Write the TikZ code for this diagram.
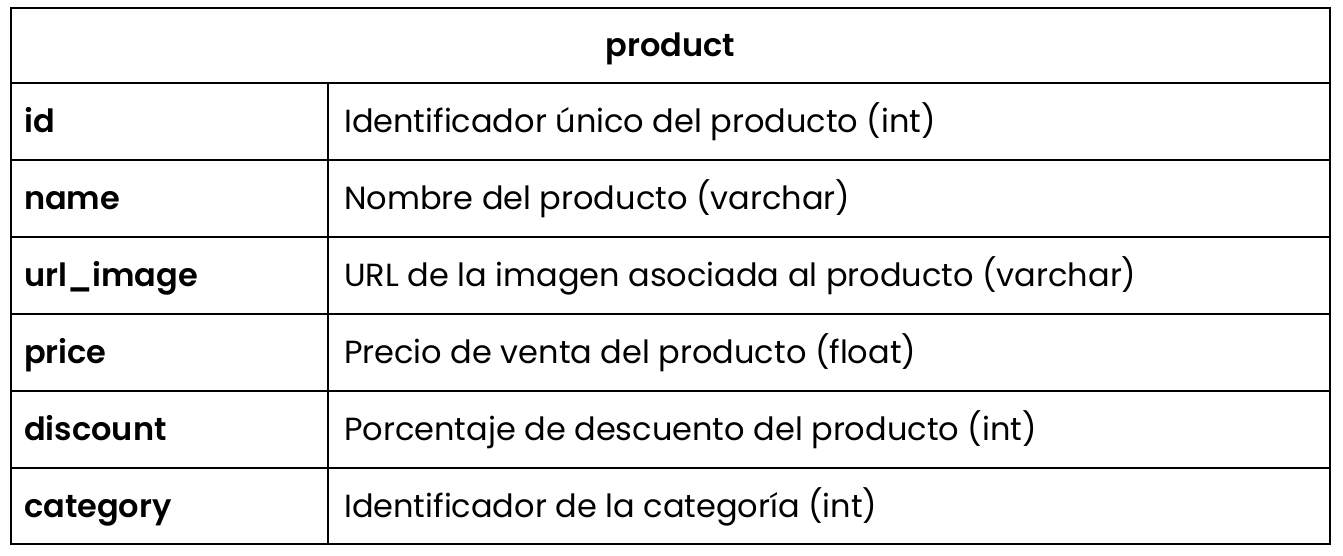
\documentclass[tikz,border=0pt]{standalone}
\usepackage{fontspec}
\setmainfont[BoldFont={Poppins SemiBold}]{Poppins}
\usetikzlibrary{positioning}

\begin{document}
\begin{tikzpicture}[x=1pt,y=-1pt,line width=2.3pt,
    cell text/.style={anchor=base west,inner sep=0pt,font=\fontsize{32}{38}\selectfont},
    key text/.style={cell text,font=\bfseries\fontsize{32}{38}\selectfont}]

    \useasboundingbox (0,0) rectangle (1343,555);

    % frame
    \coordinate (tl) at (11,8);
    \coordinate (br) at (1330,544);
    \draw (tl) rectangle (br);
    \draw (11,83) -- (1330,83);
    \draw (328,83) -- (328,544);
    \foreach \y in {160,237,314,391,468}
        \draw (11,\y) -- (1330,\y);

    \node[key text,anchor=base] (title) at (670.5,56) {product};

    \foreach \i/\key/\desc in {
        0/id/{Identificador único del producto (int)},
        1/name/{Nombre del producto (varchar)},
        2/url\_image/{URL de la imagen asociada al producto (varchar)},
        3/price/{Precio de venta del producto (float)},
        4/discount/{Porcentaje de descuento del producto (int)},
        5/category/{Identificador de la categoría (int)}}
    {
        \node[key text] (key\i) at (23,132+77*\i) {\key};
        \node[cell text] (desc\i) at (343,132+77*\i) {\desc};
    }
\end{tikzpicture}
\end{document}
